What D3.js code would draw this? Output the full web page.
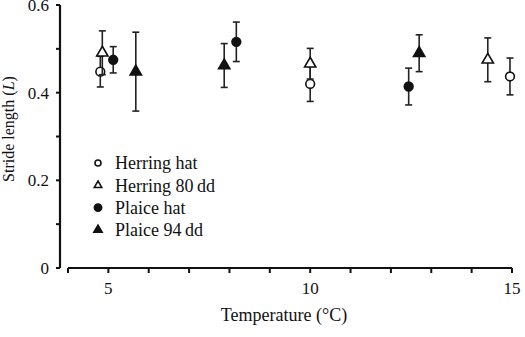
<!DOCTYPE html>
<html lang="en">
<head>
    <meta charset="utf-8">
    <title>Stride length vs temperature</title>
    <script src="https://d3js.org/d3.v7.js"></script>
    <style>
        body { margin: 0; background: #fff; }
        text { font-family: "Liberation Serif", "Times New Roman", serif; fill: #111; }
    </style>
</head>
<body>
<svg width="525" height="337"></svg>
<script type="text/javascript">
    // series: temperature, mean stride length, error
    const herringHat = [[4.8, 0.448, 0.035], [10.0, 0.420, 0.040], [14.95, 0.437, 0.042]];
    const herring80 = [[4.85, 0.491, 0.050], [10.0, 0.466, 0.035], [14.4, 0.475, 0.050]];
    const plaiceHat = [[5.12, 0.475, 0.030], [8.17, 0.516, 0.045], [12.44, 0.414, 0.042]];
    const plaice94 = [[5.68, 0.448, 0.090], [7.87, 0.462, 0.050], [12.7, 0.490, 0.042]];

    const seriesNames = ["Herring hat", "Herring 80\u2009dd", "Plaice hat", "Plaice 94\u2009dd"];
    const xTicks = [5, 10, 15];
    const yTicks = [0, 0.2, 0.4, 0.6];

    const svg = d3.select("svg");

    const x = d3.scaleLinear().domain([4, 15]).range([68, 512]);
    const y = d3.scaleLinear().domain([0, 0.6]).range([268, 5]);

    const series = [
        {name: seriesNames[0], data: herringHat, shape: "circle", filled: false},
        {name: seriesNames[1], data: herring80, shape: "triangle", filled: false},
        {name: seriesNames[2], data: plaiceHat, shape: "circle", filled: true},
        {name: seriesNames[3], data: plaice94, shape: "triangle", filled: true}
    ];

    function marker(g, s, size) {
        let sym = s.shape === "circle" ? d3.symbolCircle : d3.symbolTriangle;
        g.append("path")
            .attr("d", d3.symbol(sym, size)())
            .attr("fill", s.filled ? "#111" : "#fff")
            .attr("stroke", "#111")
            .attr("stroke-width", 1.6);
    }

    // y axis
    let yAxis = svg.append("g").attr("transform", "translate(60,0)");
    yAxis.append("line").attr("y1", y(0.6)).attr("y2", y(0))
        .attr("stroke", "#111").attr("stroke-width", 2.2);
    yAxis.selectAll(".tk").data(d3.range(0, 0.61, 0.1)).join("line")
        .attr("x1", -4).attr("x2", 0)
        .attr("y1", d => y(d)).attr("y2", d => y(d))
        .attr("stroke", "#111").attr("stroke-width", 2);
    yAxis.selectAll("text").data(yTicks).join("text")
        .attr("x", -11).attr("y", d => y(d)).attr("dy", "0.35em")
        .attr("text-anchor", "end").attr("font-size", 17)
        .text(d => d === 0 ? "0" : d.toFixed(1));

    // x axis
    let xAxis = svg.append("g").attr("transform", "translate(0,268)");
    xAxis.append("line").attr("x1", x(4)).attr("x2", x(15))
        .attr("stroke", "#111").attr("stroke-width", 2.2);
    xAxis.selectAll(".tk").data(d3.range(4, 15.1, 1)).join("line")
        .attr("x1", d => x(d)).attr("x2", d => x(d))
        .attr("y1", 0).attr("y2", 5)
        .attr("stroke", "#111").attr("stroke-width", 2);
    xAxis.selectAll("text").data(xTicks).join("text")
        .attr("x", d => x(d)).attr("y", 26)
        .attr("text-anchor", "middle").attr("font-size", 17)
        .text(d => d);

    svg.append("text").attr("x", 284).attr("y", 321)
        .attr("text-anchor", "middle").attr("font-size", 18)
        .text("Temperature (\u00b0C)");

    svg.append("text")
        .attr("transform", "translate(14,129) rotate(-90)")
        .attr("text-anchor", "middle").attr("font-size", 16)
        .html("Stride length (<tspan font-style='italic'>L</tspan>)");

    // error bars + markers
    series.forEach(function (s) {
        let g = svg.append("g");
        let pts = g.selectAll("g").data(s.data).join("g");
        pts.append("line")
            .attr("x1", d => x(d[0])).attr("x2", d => x(d[0]))
            .attr("y1", d => y(d[1] - d[2])).attr("y2", d => y(d[1] + d[2]))
            .attr("stroke", "#222").attr("stroke-width", 1.6);
        [-1, 1].forEach(function (sg) {
            pts.append("line")
                .attr("x1", d => x(d[0]) - 3.5).attr("x2", d => x(d[0]) + 3.5)
                .attr("y1", d => y(d[1] + sg * d[2])).attr("y2", d => y(d[1] + sg * d[2]))
                .attr("stroke", "#222").attr("stroke-width", 1.6);
        });
        pts.each(function (d) {
            let m = d3.select(this).append("g")
                .attr("transform", "translate(" + x(d[0]) + "," + y(d[1]) + ")");
            marker(m, s, s.shape === "circle" ? 60 : 55);
        });
    });

    // legend
    let legend = svg.append("g").attr("transform", "translate(98,163)");
    series.forEach(function (s, i) {
        let row = legend.append("g").attr("transform", "translate(0," + i * 22.3 + ")");
        let sz = s.shape === "circle" ? (s.filled ? 42 : 28) : (s.filled ? 30 : 24);
        marker(row, s, sz);
        row.append("text").attr("x", 17).attr("dy", "0.35em")
            .attr("font-size", 18).text(s.name);
    });
</script>
</body>
</html>
